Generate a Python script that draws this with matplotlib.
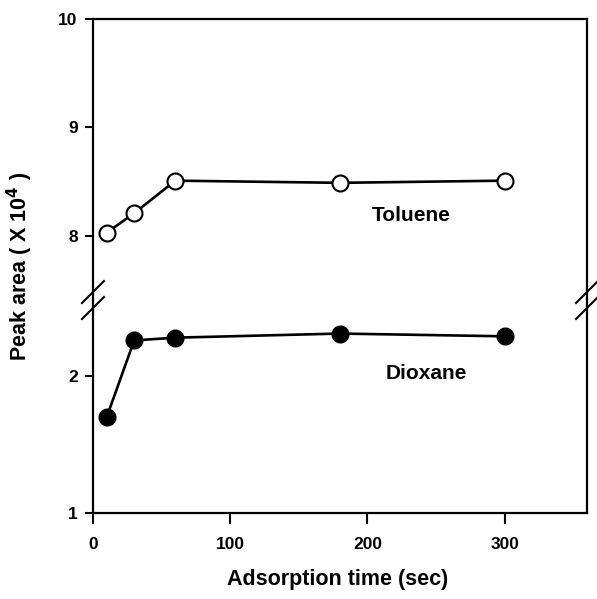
import matplotlib
matplotlib.use("Agg")
import matplotlib.pyplot as plt

plt.rcParams['font.family'] = ['Liberation Sans', 'DejaVu Sans']
plt.rcParams['font.weight'] = 'bold'

# dados
tempo = [10, 30, 60, 180, 300]
tolueno = [8.03, 8.21, 8.51, 8.49, 8.51]
dioxano = [1.70, 2.26, 2.28, 2.31, 2.29]

xticks = [0, 100, 200, 300]
yticks_sup = [8, 9, 10]
yticks_inf = [1, 2]

W, H = 597, 599
fig = plt.figure(figsize=(W / 100, H / 100), dpi=100)

esq, dir_ = 93 / W, 587 / W
y_quebra = 1 - 300 / H
ax_sup = fig.add_axes([esq, y_quebra, dir_ - esq, (1 - 19 / H) - y_quebra])
ax_inf = fig.add_axes([esq, 1 - 513 / H, dir_ - esq, y_quebra - (1 - 513 / H)])

estilo = dict(color='black', lw=1.9, markersize=11.5, markeredgewidth=1.5, clip_on=False)
ax_sup.plot(tempo, tolueno, marker='o', markerfacecolor='white', markeredgecolor='black', **estilo)
ax_inf.plot(tempo, dioxano, marker='o', markerfacecolor='black', markeredgecolor='black', **estilo)

ax_sup.set_ylim(7.41, 10)
ax_inf.set_ylim(1, 2.555)
for ax in (ax_sup, ax_inf):
    ax.set_xlim(0, 360)
    for s in ax.spines.values():
        s.set_linewidth(1.6)
    ax.tick_params(direction='out', length=6, width=1.5, labelsize=12.5, pad=5)

ax_sup.set_yticks(yticks_sup)
ax_inf.set_yticks(yticks_inf)
ax_sup.set_xticks([])
ax_sup.spines['bottom'].set_visible(False)
ax_inf.spines['top'].set_visible(False)
ax_inf.set_xticks(xticks)
ax_inf.tick_params(axis='x', length=8, pad=9)

# marcas de quebra do eixo
d = 11
for xp in (93, 587):
    for yc in (292, 308):
        fig.add_artist(plt.Line2D([(xp - d) / W, (xp + d) / W],
                                  [1 - (yc + d) / H, 1 - (yc - d) / H],
                                  color='black', lw=1.5, transform=fig.transFigure))

ax_sup.text(232, 8.19, 'Toluene', fontsize=15, fontweight='bold', ha='center', va='center')
ax_inf.text(243, 2.015, 'Dioxane', fontsize=15, fontweight='bold', ha='center', va='center')

fig.text(338 / W, 1 - 580 / H, 'Adsorption time (sec)', fontsize=15.5,
         fontweight='bold', ha='center', va='center')
fig.text(20 / W, 1 - 266 / H, r'Peak area ( X 10$^{\mathbf{4}}$ )', fontsize=15.5,
         fontweight='bold', ha='center', va='center', rotation=90)

fig.savefig('out.png', dpi=100)
